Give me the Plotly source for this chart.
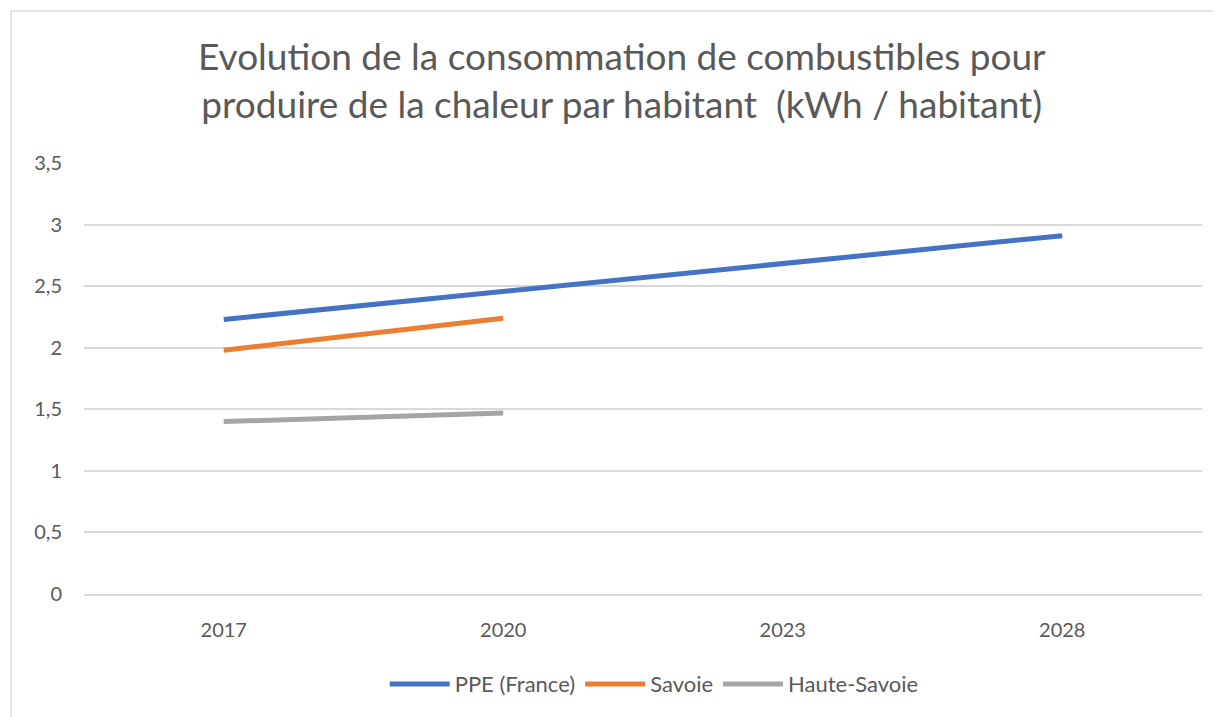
import plotly.graph_objects as go

categories = ["2017", "2020", "2023", "2028"]
ppe_france = [2.23, 2.46, 2.69, 2.91]
savoie = [1.98, 2.24, None, None]
haute_savoie = [1.40, 1.47, None, None]
y_ticks = [0, 0.5, 1, 1.5, 2, 2.5, 3, 3.5]
y_tick_text = ["0", "0,5", "1", "1,5", "2", "2,5", "3", "3,5"]

title_text = ("Evolution de la consommation de combustibles pour<br>"
              "produire de la chaleur par habitant  (kWh / habitant)")

font_family = "Lato, 'Open Sans', sans-serif"
txt_color = "#595959"

W, H = 1213, 709
ML, MR, MT, MB = 76, 19, 155, 123
PW, PH = W - ML - MR, H - MT - MB

fig = go.Figure()
series = [("PPE (France)", ppe_france, "#4472C4"),
          ("Savoie", savoie, "#ED7D31"),
          ("Haute-Savoie", haute_savoie, "#A5A5A5")]
for name, vals, col in series:
    fig.add_trace(go.Scatter(x=categories, y=vals, name=name, mode="lines",
                             line=dict(color=col, width=5)))

fig.update_layout(
    width=W, height=H,
    paper_bgcolor="white", plot_bgcolor="white",
    margin=dict(l=ML, r=MR, t=MT, b=MB),
    font=dict(family=font_family, color=txt_color, size=18),
    title=dict(text=title_text, x=0.506, xanchor="center", y=0.912, yanchor="middle",
               font=dict(size=37, color=txt_color, family=font_family)),
    showlegend=True,
    legend=dict(orientation="h", x=0.51, xanchor="center", y=-0.209, yanchor="middle",
                font=dict(size=22, color=txt_color), tracegroupgap=0, itemwidth=60),
    xaxis=dict(type="category", range=[-0.5, 3.5], showgrid=False, showline=True,
               linecolor="#D9D9D9", linewidth=2, ticks="",
               tickfont=dict(size=20, color=txt_color),
               ticklabelstandoff=17, zeroline=False),
    yaxis=dict(range=[0, 3.5], tickvals=y_ticks, ticktext=y_tick_text,
               showgrid=True, gridcolor="#D9D9D9", gridwidth=2, zeroline=False,
               showline=False, ticks="", tickfont=dict(size=20, color=txt_color),
               ticklabelstandoff=21),
)

fig.add_shape(type="rect", xref="paper", yref="paper",
              x0=-(ML - 3) / PW, x1=1 + (MR + 20) / PW,
              y0=-(MB + 20) / PH, y1=1 + (MT - 3) / PH,
              line=dict(color="#D9D9D9", width=1.5), fillcolor="rgba(0,0,0,0)", layer="below")

fig.write_html("out.html")
